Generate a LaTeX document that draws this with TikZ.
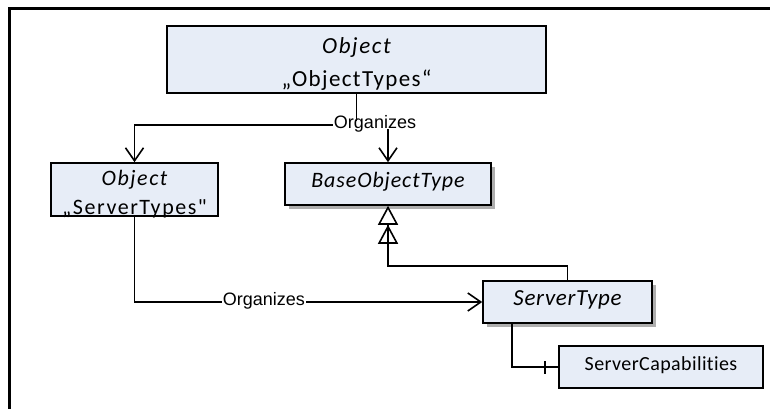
\documentclass[tikz,border=0pt]{standalone}
\usepackage{fontspec}
\setmainfont{Carlito}[Ligatures={TeXOff,CommonOff}]
\newfontfamily\lblfont{Liberation Sans}
\usetikzlibrary{arrows.meta,shadows,decorations.markings}
\definecolor{boxfill}{RGB}{231,237,247}
\newcommand{\lsp}[1]{\addfontfeatures{LetterSpace=#1}}
\begin{document}
\begin{tikzpicture}[x=1pt,y=-1pt,
  box/.style={draw=black, line width=1.6pt, fill=boxfill, rectangle, inner sep=0pt},
  shbox/.style={box, drop shadow={shadow xshift=4pt, shadow yshift=-4pt, opacity=0.45, fill=black!70}},
  captext/.style={text height=0.64em, text depth=0pt},
  txt/.style={inner sep=0pt, anchor=base},
  conn/.style={line width=1.6pt, draw=black},
  org/.style={-{Straight Barb[length=13pt,width=18pt]}},
  inh/.style={-{Triangle[open,length=19pt,width=20pt,sep=0pt]Triangle[open,length=19pt,width=20pt]}},
  lbl/.style={fill=white, inner sep=1pt, font=\lblfont\fontsize{18}{20}\selectfont, captext},
  tick/.style={postaction={decorate, decoration={markings, mark=at position -13pt with {\draw[line width=1.6pt] (0,-6.5pt) -- (0,6.5pt);}}}}
]
\useasboundingbox (0,0) rectangle (770,409);
\draw[line width=3pt] (9,415) -- (9,9) -- (776,9);

% boxes
\node[box, minimum width=379pt, minimum height=67pt] (OT) at (356.5,59.5) {};
\node[txt, font=\fontsize{23}{27}\selectfont\itshape\lsp{7}] (OTa) at (356.5,54) {Object};
\node[txt, font=\fontsize{23}{27}\selectfont\lsp{6}] (OTb) at (356.5,87) {„ObjectTypes“};

\node[box, minimum width=167pt, minimum height=53pt] (ST) at (134.5,189.5) {};
\node[txt, font=\fontsize{22}{26}\selectfont\itshape\lsp{7}] (STa) at (134.5,185) {Object};
\node[txt, font=\fontsize{22}{26}\selectfont\lsp{7}] (STb) at (134.5,214) {„ServerTypes"};

\node[shbox, minimum width=206pt, minimum height=42pt, captext, font=\fontsize{22}{26}\selectfont\itshape\lsp{4}] (BOT) at (388,184) {BaseObjectType};
\node[shbox, minimum width=169pt, minimum height=42pt, captext, font=\fontsize{23}{27}\selectfont\itshape\lsp{3}] (SType) at (567.5,302) {ServerType};
\node[box, minimum width=204pt, minimum height=42pt, captext, font=\fontsize{20}{24}\selectfont\lsp{2}] (SC) at (661,367) {ServerCapabilities};

% connectors
\coordinate (J1) at (356.5,125);
\draw[conn, org] (OT.south) -- (J1) -| (ST.north);
\draw[conn, org] (OT.south) -- (J1) -| (BOT.north);
\node[lbl] (L1) at (375,125) {Organizes};

\draw[conn, org] (ST.south) |- node[lbl, pos=0.686] (L2) {Organizes} (SType.west);

\draw[conn, inh] (SType.north) -- ++(0,-14) -| (BOT.south);

\draw[conn, tick] ([xshift=-55.5pt]SType.south) |- (SC.west);
\end{tikzpicture}
\end{document}
